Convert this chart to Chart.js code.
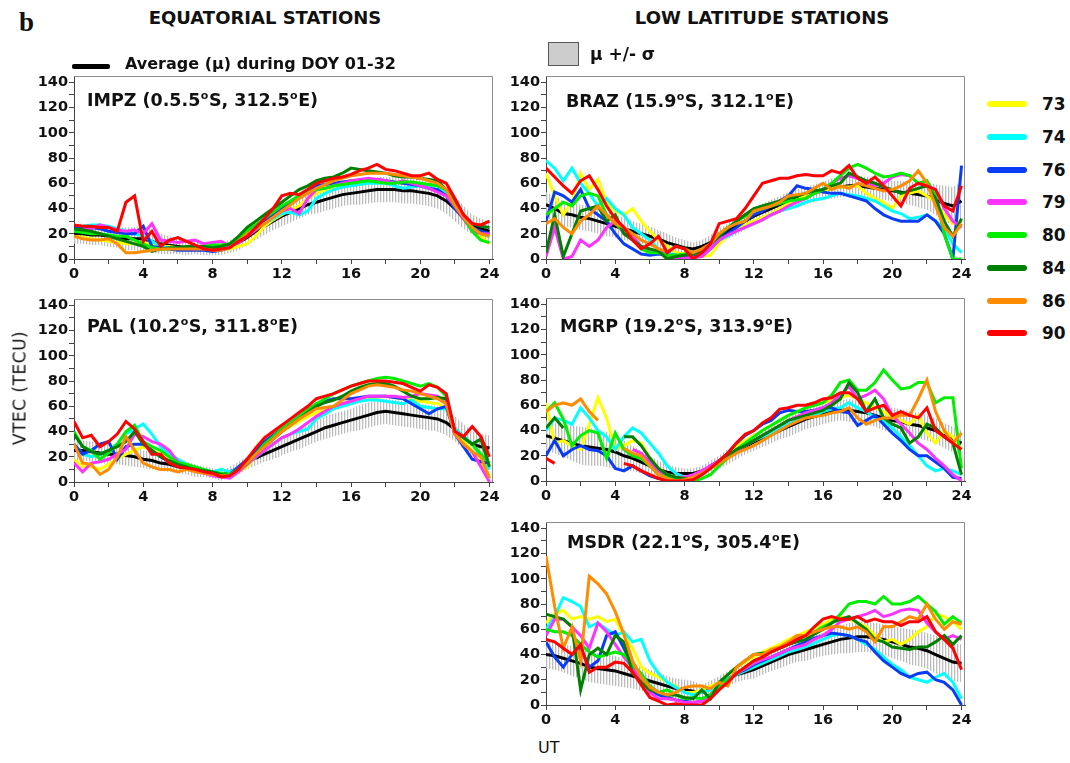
<!DOCTYPE html>
<html>
<head>
<meta charset="utf-8">
<script src="https://cdn.jsdelivr.net/npm/chart.js@4.4.0/dist/chart.umd.min.js"></script>
<style>
  body { margin: 0; background: #fff; }
  #page { position: relative; width: 1070px; height: 763px; overflow: hidden; font-family: "DejaVu Sans", sans-serif; color: #111; }
  .txt { position: absolute; white-space: nowrap; line-height: 1; font-weight: bold; }
  .swatch { position: absolute; }
  canvas { position: absolute; }
</style>
</head>
<body>
<div id="page"></div>
<script>
// UT hours, half-hour steps
const hours = [0,0.5,1,1.5,2,2.5,3,3.5,4,4.5,5,5.5,6,6.5,7,7.5,8,8.5,9,9.5,10,10.5,11,11.5,
  12,12.5,13,13.5,14,14.5,15,15.5,16,16.5,17,17.5,18,18.5,19,19.5,20,20.5,21,21.5,22,22.5,23,23.5,24];

const doys = ['73', '74', '76', '79', '80', '84', '86', '90'];
const doyColors = ['#ffff00', '#00ffff', '#0a3cf5', '#ff33ff', '#00ee00', '#008000', '#ff8c00', '#ff0000'];

// IMPZ
const impzMean = [20,20,19,19,18,17,16,16,16, 14,12,11,10,9,9,8,8, 8,10,13,17,22,26,30,34, 37,40,43,45,47,49,51,52, 53,54,55,55,55,54,54,53, 52,50,46,40,33,27,24,22];
const impzSigma = [8,8,8,8,8,8,9,9,10, 9,8,7,6,6,5,5,5, 5,5,6,6,7,7,7,8, 8,8,8,9,9,9,9,9, 10,10,10,10,10,10,10,10, 10,10,10,10,9,8,8,8];
const impzTec = [
  [18,17,16,15,14,13,12,12,13, 11,10,10,9,9,9,8,8, 8,8,10,12,18,26,31,35, 39,42,48,52,55,57,59,60, 61,62,62,62,61,60,60,60, 59,58,52,42,33,25,18,12],
  [25,26,27,27,26,24,22,20,18, 14,10,9,9,8,8,8,9, 9,10,14,20,24,28,32,36, 37,35,38,48,52,55,57,58, 59,60,60,60,58,56,57,58, 58,58,52,42,33,25,20,18],
  [25,25,25,24,22,21,20,20,26, 10,9,8,7,7,7,7,6, 7,9,14,20,25,30,35,40, 45,50,54,58,59,60,61,62, 62,63,63,62,61,60,59,58, 56,55,50,40,32,25,22,20],
  [22,23,24,27,25,23,22,23,20, 28,15,14,13,14,15,12,13, 14,10,13,18,23,28,33,38, 40,36,48,55,56,58,60,62, 63,64,63,62,60,62,60,58, 56,53,50,42,32,22,20,20],
  [22,21,20,20,19,18,18,15,12, 9,8,8,9,9,10,10,11, 11,12,16,22,27,32,37,42, 46,50,53,55,56,58,59,60, 61,62,61,60,60,61,61,60, 59,58,55,45,33,22,15,13],
  [24,23,22,20,18,16,14,12,10, 6,8,9,9,10,10,10,9, 10,12,18,25,30,35,40,45, 50,55,58,62,64,65,68,72, 71,70,69,68,66,65,65,64, 63,62,55,45,35,28,26,25],
  [18,16,15,15,16,12,5,5,6, 7,8,8,8,8,8,8,7, 7,9,14,20,24,28,33,38, 43,48,52,56,59,62,64,66, 67,68,68,68,67,66,65,64, 62,60,55,42,33,25,20,18],
  [27,26,26,25,25,22,45,50,14, 22,10,15,17,14,11,8,7, 8,9,14,18,25,32,40,50, 52,51,55,60,62,64,65,67, 70,72,75,71,70,68,66,66, 68,63,60,48,35,28,27,30]
];

// PAL
const palMean = [25,25,24,23,22,22,21,20,18, 17,15,14,12,11,9,8,7, 5,8,11,15,19,22,25,28, 31,34,37,40,43,45,47,49, 51,53,55,56,55,54,53,52, 51,50,47,42,36,30,28,27];
const palSigma = [8,8,8,8,8,8,8,8,7, 7,6,6,5,5,5,4,4, 4,4,5,5,6,6,7,7, 7,8,8,8,9,9,9,9, 10,10,10,10,10,10,10,10, 10,10,10,10,10,10,10,10];
const palTec = [
  [18,12,12,10,14,18,22,25,28, 25,22,20,16,14,10,8,6, 5,5,8,12,20,28,34,40, 44,48,52,55,58,60,62,64, 65,66,67,68,67,66,65,64, 63,62,58,42,33,25,15,5],
  [30,22,20,22,25,30,38,42,46, 38,28,22,18,14,10,9,8, 10,8,11,14,20,25,30,35, 38,40,42,50,54,58,60,62, 64,65,65,64,63,62,65,60, 59,58,58,42,36,30,20,10],
  [30,22,25,30,32,18,28,30,30, 25,20,16,13,11,9,8,7, 6,6,12,18,25,32,37,42, 47,52,57,62,64,66,66,66, 67,68,68,68,67,66,62,58, 54,58,60,38,28,18,16,15],
  [15,8,15,16,18,22,26,38,36, 32,30,25,16,12,9,7,5, 4,3,8,14,20,25,30,35, 38,42,47,52,56,60,62,64, 66,68,68,68,68,67,68,70, 69,68,62,38,30,24,12,0],
  [40,28,25,18,23,30,40,45,32, 28,25,20,15,14,12,10,8, 7,6,10,15,22,30,36,42, 47,52,57,62,66,70,73,76, 78,80,82,83,82,80,78,76, 78,75,68,40,35,30,22,15],
  [38,28,24,22,25,28,32,40,30, 25,20,17,14,12,10,9,8, 6,5,10,15,22,28,34,40, 45,50,55,60,63,65,68,72, 75,77,78,78,76,72,68,66, 66,67,66,40,35,30,34,12],
  [30,15,14,6,10,20,36,25,15, 12,10,10,8,10,8,7,6, 5,5,10,15,22,28,34,40, 45,50,54,58,59,60,65,70, 73,76,77,76,75,73,72,70, 68,66,62,38,30,24,20,3],
  [48,35,37,28,32,38,48,42,32, 22,22,15,12,11,10,8,7, 4,5,10,18,27,35,40,45, 50,55,60,66,68,70,73,76, 78,80,80,80,79,78,75,72, 77,75,70,40,36,44,36,20]
];

// BRAZ
const brazMean = [43,40,36,35,33,32,30,28,26, 24,22,20,18,16,13,11,9, 8,10,13,18,22,26,30,34, 37,40,43,46,48,50,52,54, 56,57,58,58,57,56,55,54, 53,52,51,50,47,44,42,46];
const brazSigma = [10,10,10,10,10,10,10,10,9, 9,8,8,8,7,7,6,6, 5,5,6,6,6,7,7,7, 7,7,7,7,7,7,7,7, 8,8,8,8,8,8,8,8, 9,9,10,11,12,14,15,15];
const brazTec = [
  [68,50,35,45,68,55,63,45,38, 35,40,30,22,15,10,5,4, 2,2,3,12,18,24,27,30, 33,36,40,44,47,50,52,54, 56,57,57,58,52,48,45,40, 50,52,54,50,45,35,28,30],
  [78,72,62,72,60,52,42,48,40, 35,25,20,15,8,5,3,2, 2,5,10,15,18,22,25,28, 31,35,38,40,42,45,47,48, 50,52,51,50,48,46,42,38, 36,32,33,35,30,25,12,5],
  [30,53,50,45,55,40,35,30,20, 12,8,4,3,4,3,3,2, 2,3,8,15,20,25,30,35, 38,42,46,50,58,56,55,53, 52,52,50,48,46,40,35,32, 30,30,30,35,30,20,0,74],
  [2,25,0,2,15,10,15,25,30, 20,18,10,6,8,3,1,1, 1,2,8,15,19,22,25,28, 31,35,38,42,45,48,52,55, 60,64,66,64,60,58,60,65, 67,66,60,58,55,40,30,25],
  [35,40,45,42,50,52,50,35,28, 22,15,8,5,5,3,3,4, 4,5,12,20,25,30,34,38, 40,42,44,46,47,48,52,55, 60,66,72,75,72,68,65,66, 68,66,60,62,50,20,0,0],
  [5,35,2,20,38,40,42,30,35, 20,15,10,8,6,0,2,3, 4,6,12,18,24,30,35,40, 42,44,46,48,50,52,54,55, 58,60,68,65,62,60,57,55, 52,54,56,58,48,30,18,32],
  [28,32,25,20,30,35,42,35,28, 25,20,15,12,8,6,10,8, 5,8,12,20,25,28,30,38, 40,42,45,50,51,52,56,60, 55,58,56,60,58,56,54,55, 58,62,70,60,42,25,18,28],
  [72,65,58,52,62,66,55,42,32, 25,15,8,12,18,5,10,8, 0,5,12,28,30,32,40,50, 60,62,64,64,66,67,66,66, 70,68,74,64,60,65,58,50, 42,56,60,58,55,42,38,58]
];

// MGRP
const mgrpMean = [36,34,32,30,28,27,26,25,23, 20,18,15,12,9,7,6,6, 6,8,11,15,19,23,27,31, 34,37,40,43,46,49,51,53, 55,56,56,55,54,52,50,48, 47,45,44,42,40,36,33,30];
const mgrpSigma = [12,12,13,14,15,15,14,14,13, 12,10,9,8,7,6,5,4, 4,4,5,5,6,6,6,7, 7,7,7,8,8,8,8,8, 8,8,9,9,9,9,10,10, 10,10,10,10,10,10,10,10];
const mgrpTec = [
  [62,30,32,28,25,45,66,50,25, 28,32,30,18,10,5,3,3, 3,6,10,16,22,28,32,36, 40,44,48,52,55,58,60,62, 64,66,68,65,62,58,55,50, 48,45,52,38,30,40,35,25],
  [40,50,48,45,58,50,40,35,25, 35,42,38,30,22,12,6,3, 3,6,10,15,20,25,28,32, 35,38,42,45,48,50,52,55, 57,58,62,58,55,50,48,42, 35,28,20,12,8,10,8,5],
  [20,32,20,25,28,25,24,20,10, 8,12,8,4,2,1,0,1, 3,7,12,16,22,30,36,40, 45,48,54,56,55,55,56,58, 58,55,54,44,48,52,45,38, 32,25,20,20,15,10,3,2],
  [10,null,null,null,null,null,null,null,null, null,25,22,15,8,4,3,3, 5,8,12,16,20,24,28,32, 36,40,44,48,51,54,56,58, 62,68,75,65,68,72,65,52, 45,38,30,25,18,12,5,0],
  [55,62,49,28,36,40,38,18,38, 25,20,18,12,5,3,2,1, 0,2,5,12,18,25,30,35, 40,44,48,52,55,58,60,62, 68,78,80,72,72,78,88,80, 73,74,78,78,62,66,66,10],
  [42,50,42,null,null,null,null,null,null, 35,35,28,18,10,5,3,2, 2,5,10,15,20,25,28,32, 36,40,44,48,50,52,54,56, 60,65,78,70,55,65,50,45, 42,30,35,45,42,35,30,5],
  [55,60,62,60,65,55,48,null,null, 26,22,20,12,5,2,0,1, 3,6,10,14,18,22,25,28, 32,36,40,44,47,50,51,52, 54,55,58,50,45,48,50,50, 52,52,65,80,55,40,30,38],
  [18,14,null,null,null,null,null,null,null, 14,12,8,5,2,0,0,0, 1,5,10,16,22,30,37,40, 46,50,57,58,60,60,62,65, 66,70,70,65,55,58,60,52, 55,52,50,58,40,35,30,25]
];

// MSDR
const msdrMean = [40,39,37,35,33,30,29,28,27, 25,23,21,19,17,15,13,12, 11,10,13,17,21,24,26,28, 31,34,37,40,42,44,46,48, 50,52,53,54,54,53,52,50, 48,46,45,43,40,37,34,33];
const msdrSigma = [11,11,11,12,12,12,12,12,12, 11,10,10,9,9,8,8,8, 8,6,6,6,6,6,6,7, 7,7,8,8,8,9,9,9, 10,11,12,12,12,12,12,13, 13,14,14,14,15,15,15,15];
const msdrTec = [
  [65,72,75,68,70,68,70,66,68, 55,45,30,25,22,18,15,10, 10,12,15,18,24,30,34,38, 42,45,48,52,55,58,61,64, 68,70,68,65,62,55,50,52, 48,52,58,62,72,70,66,60],
  [60,70,85,82,78,62,65,60,55, 58,50,52,35,25,18,14,10, 8,10,12,18,21,24,27,30, 33,36,39,42,44,46,49,52, 55,56,55,52,48,44,38,32, 28,22,20,18,22,25,18,5],
  [50,38,30,40,45,30,35,55,58, 45,30,20,12,8,6,4,3, 2,3,8,15,20,25,28,32, 35,38,41,44,47,50,53,55, 57,56,55,52,50,42,35,30, 25,22,25,26,20,18,12,0],
  [55,68,68,62,55,45,65,58,48, 38,30,20,10,5,5,4,2, 2,3,8,15,20,25,29,33, 36,38,41,44,46,48,52,55, 60,66,68,70,72,75,70,72, 75,76,75,65,58,52,55,52],
  [60,58,58,55,48,42,38,40,42, 40,32,25,15,10,12,8,5, 6,5,8,15,20,25,30,35, 38,42,45,48,52,55,58,62, 65,72,80,82,82,80,86,80, 80,82,86,80,74,64,70,65],
  [72,70,68,62,12,40,45,40,55, 50,25,18,12,10,8,8,6, 5,12,5,18,24,30,35,40, 41,42,45,48,50,52,56,60, 65,68,70,65,60,52,50,46, 45,44,46,46,50,55,48,55],
  [118,78,45,62,35,102,96,88,74, 56,35,22,14,10,8,10,14, 15,15,13,18,15,30,35,40, 40,44,46,50,55,55,58,60, 62,62,60,62,58,50,62,62, 66,70,68,80,68,60,66,64],
  [52,50,45,40,48,26,30,30,34, 33,26,16,6,3,0,1,0, 0,0,5,12,18,25,30,35, 38,42,45,48,52,55,62,68, 70,68,68,70,66,68,66,66, 63,66,66,70,58,52,45,28]
];

const FONT = '"DejaVu Sans", sans-serif';
const PLOT_W = 419, PLOT_H = 183, AXIS_W = 60, AXIS_H = 30, PAD = 14;

const panels = [
  { name: 'IMPZ (0.5.5ºS, 312.5ºE)', mean: impzMean, sigma: impzSigma, tec: impzTec, left: 74, top: 76, nx: 13, ny: 30 },
  { name: 'BRAZ (15.9ºS, 312.1ºE)', mean: brazMean, sigma: brazSigma, tec: brazTec, left: 546, top: 76, nx: 20, ny: 31 },
  { name: 'PAL (10.2ºS, 311.8ºE)', mean: palMean, sigma: palSigma, tec: palTec, left: 74, top: 299, nx: 13, ny: 33 },
  { name: 'MGRP (19.2ºS, 313.9ºE)', mean: mgrpMean, sigma: mgrpSigma, tec: mgrpTec, left: 546, top: 298, nx: 14, ny: 34 },
  { name: 'MSDR (22.1ºS, 305.4ºE)', mean: msdrMean, sigma: msdrSigma, tec: msdrTec, left: 546, top: 522, nx: 21, ny: 26 }
];

const page = document.getElementById('page');

function addText(text, left, top, css) {
  const d = document.createElement('div');
  d.className = 'txt';
  d.textContent = text;
  d.style.left = left + 'px';
  d.style.top = top + 'px';
  Object.assign(d.style, css || {});
  page.appendChild(d);
  return d;
}

function addSwatch(left, top, w, h, css) {
  const d = document.createElement('div');
  d.className = 'swatch';
  Object.assign(d.style, { left: left + 'px', top: top + 'px', width: w + 'px', height: h + 'px' }, css);
  page.appendChild(d);
}

// vertical hatching used for the mu +/- sigma band
function hatch(ctx) {
  const c = document.createElement('canvas');
  c.width = 3; c.height = 4;
  const g = c.getContext('2d');
  g.fillStyle = '#bcbcbc';
  g.fillRect(0, 0, 1, 4);
  g.fillStyle = '#ececec';
  g.fillRect(1, 0, 1, 4);
  return ctx.createPattern(c, 'repeat');
}

const framePlugin = {
  id: 'frame',
  afterDraw(chart) {
    const { ctx, chartArea: a } = chart;
    ctx.save();
    ctx.strokeStyle = '#8c8c8c';
    ctx.lineWidth = 1;
    ctx.beginPath();
    ctx.moveTo(a.left, a.top + 0.5);
    ctx.lineTo(a.right - 0.5, a.top + 0.5);
    ctx.lineTo(a.right - 0.5, a.bottom);
    ctx.stroke();
    ctx.restore();
  }
};

// station name with raised "o" for degrees
function stationPlugin(p) {
  return {
    id: 'station',
    afterDatasetsDraw(chart) {
      const { ctx, chartArea: a } = chart;
      let x = a.left + p.nx;
      const y = a.top + p.ny;
      ctx.save();
      ctx.fillStyle = '#111';
      ctx.textBaseline = 'alphabetic';
      const parts = p.name.split('º');
      parts.forEach((part, i) => {
        ctx.font = 'bold 17.5px ' + FONT;
        ctx.fillText(part, x, y);
        x += ctx.measureText(part).width;
        if (i < parts.length - 1) {
          ctx.font = 'bold 11px ' + FONT;
          ctx.fillText('o', x + 0.5, y - 7);
          x += ctx.measureText('o').width + 1;
        }
      });
      ctx.restore();
    }
  };
}

function makePanel(p) {
  const canvas = document.createElement('canvas');
  canvas.width = AXIS_W + PLOT_W + PAD;
  canvas.height = PAD + PLOT_H + AXIS_H;
  canvas.style.left = (p.left - AXIS_W) + 'px';
  canvas.style.top = (p.top - PAD) + 'px';
  page.appendChild(canvas);
  const ctx = canvas.getContext('2d');

  const upper = p.mean.map((m, i) => m + p.sigma[i]);
  const lower = p.mean.map((m, i) => m - p.sigma[i]);

  const datasets = [
    { data: upper, borderColor: 'rgba(0,0,0,0)', borderWidth: 0, pointRadius: 0, fill: '+1', backgroundColor: hatch(ctx), order: 30 },
    { data: lower, borderColor: 'rgba(0,0,0,0)', borderWidth: 0, pointRadius: 0, fill: false, order: 30 },
    { data: p.mean, borderColor: '#000', borderWidth: 3, pointRadius: 0, fill: false, order: 20 }
  ];
  p.tec.forEach((vals, i) => {
    datasets.push({
      label: doys[i], data: vals, borderColor: doyColors[i], borderWidth: 3,
      pointRadius: 0, fill: false, order: 8 - i
    });
  });

  const tickFont = { family: FONT, size: 14.5, weight: 'bold' };
  new Chart(ctx, {
    type: 'line',
    data: { labels: hours, datasets: datasets },
    options: {
      responsive: false,
      animation: false,
      spanGaps: false,
      layout: { padding: { top: PAD, right: PAD, left: 0, bottom: 0 } },
      plugins: { legend: { display: false }, tooltip: { enabled: false } },
      scales: {
        x: {
          type: 'linear', min: 0, max: 24.2,
          ticks: { stepSize: 2, includeBounds: false, autoSkip: false, maxRotation: 0, padding: 2,
                   font: tickFont, color: '#111', callback: v => (v % 4 === 0 ? v : '') },
          grid: { drawOnChartArea: false, tickLength: 5, color: '#444' },
          border: { color: '#444', width: 1 },
          afterFit: s => { s.height = AXIS_H; }
        },
        y: {
          min: 0, max: 145,
          ticks: { stepSize: 10, includeBounds: false, autoSkip: false, padding: 1,
                   font: tickFont, color: '#111', callback: v => (v % 20 === 0 ? v : '') },
          grid: { drawOnChartArea: false, tickLength: 5, color: '#444' },
          border: { color: '#444', width: 1 },
          afterFit: s => { s.width = AXIS_W; }
        }
      }
    },
    plugins: [framePlugin, stationPlugin(p)]
  });
}

panels.forEach(makePanel);

// headings and legends
addText('b', 19, 9, { fontFamily: '"Liberation Serif", serif', fontSize: '27px' });
addText('EQUATORIAL STATIONS', 265, 9, { fontSize: '18px', transform: 'translateX(-50%)' });
addText('LOW LATITUDE STATIONS', 762, 9, { fontSize: '18px', transform: 'translateX(-50%)' });

addSwatch(72, 64, 38, 5, { background: '#000', borderRadius: '2px' });
addText('Average (μ) during DOY 01-32', 125, 56, { fontSize: '16px' });

addSwatch(548, 42, 29, 22, { background: '#cdcdcd', border: '1px solid #555' });
addText('μ +/- σ', 590, 46, { fontSize: '17px' });

doys.forEach((d, i) => {
  const yc = 104 + i * 32.75;
  addSwatch(987, yc - 3, 40, 6, { background: doyColors[i], borderRadius: '3px' });
  addText(d, 1042, yc - 8, { fontSize: '17px' });
});

addText('VTEC (TECU)', 20, 388, { fontSize: '17px', fontWeight: 'normal', letterSpacing: '0.5px',
  transform: 'translate(-50%, -50%) rotate(-90deg)' });
addText('UT', 538, 740, { fontSize: '16px', fontWeight: 'normal' });
</script>
</body>
</html>
